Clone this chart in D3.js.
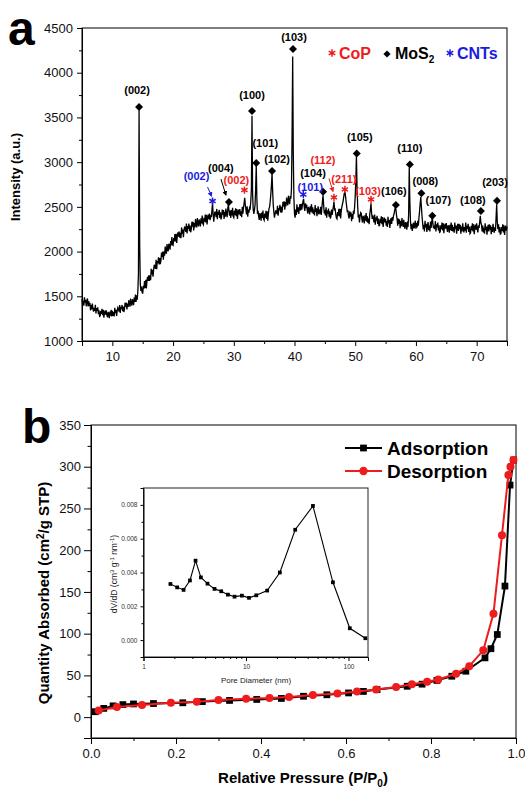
<!DOCTYPE html>
<html><head><meta charset="utf-8">
<script src="https://cdn.jsdelivr.net/npm/d3@7"></script>
<style>body{margin:0;background:#fff}svg{display:block}</style>
</head><body>
<svg id="chart" width="525" height="788"></svg>
<script>
// ===== Panel a: XRD data (2θ from 5 to 75, step 0.1) =====
const xrdStart = 5, xrdStep = 0.1;
const xrdIntensity = [
1468,1408,1448,1396,1488,1428,1460,1388,1444,1476,
1386,1445,1392,1427,1342,1401,1352,1419,1366,1329,
1372,1336,1404,1308,1368,1336,1376,1300,1344,1276,
1280,1338,1302,1360,1288,1350,1260,1318,1340,1294,
1344,1292,1264,1324,1304,1256,1330,1282,1350,1274,
1338,1281,1324,1275,1370,1313,1348,1279,1338,1373,
1357,1328,1403,1314,1381,1356,1403,1334,1385,1324,
1361,1429,1385,1428,1352,1420,1380,1456,1412,1384,
1475,1421,1395,1467,1450,1400,1487,1437,1518,1436,
1510,1462,1560,1760,3580,2080,1640,1560,1610,1545,
1530,1617,1584,1671,1593,1685,1587,1674,1716,1673,
1735,1672,1734,1681,1808,1745,1797,1719,1801,1853,
1835,1806,1907,1803,1894,1870,1936,1857,1928,1859,
1900,1990,1940,2000,1910,2000,1955,2055,2005,1975,
2085,2029,2003,2087,2071,2020,2119,2068,2162,2076,
2070,2152,2114,2196,2113,2200,2097,2179,2216,2168,
2225,2155,2210,2150,2270,2200,2245,2160,2235,2280,
2255,2219,2313,2202,2286,2255,2314,2228,2292,2216,
2250,2334,2278,2332,2236,2320,2269,2363,2307,2271,
2375,2313,2281,2359,2337,2280,2373,2316,2404,2312,
2300,2378,2336,2414,2327,2410,2303,2381,2414,2362,
2425,2352,2404,2385,2458,2545,2417,2334,2406,2448,
2425,2386,2477,2363,2444,2410,2466,2377,2438,2359,
2390,2471,2412,2463,2364,2445,2391,2482,2423,2384,
2470,2530,2465,2400,2460,2375,2465,2405,2490,2395,
2380,2455,2410,2485,2395,2475,2365,2440,2470,2415,
2475,2400,2450,2385,2500,2425,2490,2540,2600,2520,
2470,2415,2505,2390,2470,2435,2490,2480,2560,2700,
3520,2640,2470,2420,2460,2520,2700,2960,2600,2420,
2455,2390,2355,2430,2405,2345,2435,2375,2460,2365,
2350,2425,2380,2455,2365,2450,2345,2420,2480,2500,
2560,2640,2740,2870,2680,2520,2440,2380,2420,2455,
2455,2419,2513,2402,2486,2465,2524,2438,2502,2436,
2470,2557,2504,2561,2468,2555,2506,2603,2551,2518,
2625,2560,2530,2620,2590,2700,3300,4180,3100,2600,
2420,2380,2470,2410,2530,2440,2495,2420,2485,2530,
2460,2535,2470,2520,2560,2590,2500,2455,2540,2485,
2525,2460,2425,2500,2475,2415,2505,2445,2530,2435,
2495,2420,2470,2405,2520,2445,2485,2395,2465,2505,
2415,2470,2425,2500,2410,2480,2560,2630,2520,2430,
2445,2405,2495,2380,2460,2425,2480,2390,2450,2370,
2390,2470,2410,2460,2500,2560,2470,2475,2415,2375,
2365,2443,2401,2479,2393,2477,2371,2456,2500,2530,
2560,2610,2650,2670,2620,2560,2500,2440,2460,2395,
2370,2450,2390,2440,2340,2420,2365,2455,2420,2500,
2620,2800,3070,2720,2520,2380,2415,2325,2395,2435,
2425,2360,2325,2400,2375,2315,2405,2345,2430,2335,
2395,2320,2370,2305,2420,2470,2540,2430,2365,2405,
2365,2325,2415,2300,2380,2345,2400,2310,2370,2290,
2290,2365,2320,2395,2305,2385,2275,2350,2380,2325,
2365,2290,2340,2275,2390,2315,2355,2265,2335,2375,
2310,2385,2345,2400,2420,2460,2490,2470,2410,2360,
2290,2370,2310,2360,2260,2340,2285,2375,2315,2275,
2355,2290,2255,2330,2305,2245,2335,2275,2420,2940,
2560,2340,2250,2310,2230,2280,2325,2260,2300,2345,
2255,2320,2270,2345,2290,2380,2450,2540,2610,2500,
2400,2320,2250,2300,2225,2345,2270,2310,2220,2290,
2330,2240,2290,2225,2335,2265,2330,2390,2310,2260,
2290,2250,2340,2225,2305,2270,2325,2235,2295,2215,
2220,2295,2250,2325,2235,2315,2205,2280,2310,2255,
2320,2255,2220,2295,2270,2210,2300,2240,2325,2230,
2300,2225,2275,2210,2325,2250,2290,2200,2270,2310,
2230,2310,2250,2300,2200,2280,2225,2315,2255,2215,
2275,2235,2325,2210,2290,2255,2310,2220,2280,2200,
2210,2285,2240,2315,2225,2305,2195,2270,2300,2245,
2315,2250,2215,2290,2265,2330,2400,2320,2300,2225,
2290,2215,2265,2200,2315,2240,2280,2190,2260,2300,
2225,2305,2245,2295,2195,2275,2220,2310,2250,2210,
2270,2230,2380,2530,2330,2250,2305,2215,2275,2195,
2200,2275,2230,2305,2215,2295,2185,2260,2290,2235,
2280];
const xrdXTicks = [10,20,30,40,50,60,70];
const xrdXMinor = [5,15,25,35,45,55,65,75];
const xrdYTicks = [1000,1500,2000,2500,3000,3500,4000,4500];
const xrdYMinor = [1250,1750,2250,2750,3250,3750,4250];

// peak annotations
const mos2Labels = ["(002)","(004)","(100)","(101)","(102)","(103)","(104)","(105)","(106)","(110)","(008)","(107)","(108)","(203)"];
const mos2Pos    = [14.4, 29.2, 33.0, 33.7, 36.3, 39.75, 44.7, 50.25, 56.7, 59.0, 60.9, 62.7, 70.7, 73.35];
const mos2Mark   = [3616, 2554, 3571, 2990, 2900, 4265, 2670, 3098, 2520, 2975, 2651, 2401, 2453, 2569];
const copLabels  = ["(002)","(112)","(211)","(103)"];
const copPos     = [31.75, 46.5, 48.3, 52.6];
const copMark    = [2688, 2606, 2696, 2584];
const cntLabels  = ["(002)","(101)"];
const cntPos     = [26.5, 41.45];
const cntMark    = [2565, 2638];

// ===== Panel b: N2 isotherm =====
const adsP = [0.010,0.030,0.052,0.075,0.100,0.147,0.216,0.262,0.326,0.390,0.448,0.500,0.555,0.606,0.641,0.673,0.744,0.779,0.814,0.849,0.882,0.927,0.941,0.956,0.974,0.986,0.994];
const adsQ = [6.5,10.5,13.5,15,15.8,16.3,17.2,18.6,20,21.2,22.4,25,26.8,29,30.8,33,37,39.5,44,49,55,71,82,99,157,278,308];
const desP = [0.994,0.987,0.982,0.967,0.947,0.923,0.890,0.859,0.817,0.791,0.755,0.718,0.671,0.626,0.580,0.522,0.466,0.420,0.365,0.300,0.249,0.188,0.120,0.061,0.018];
const desQ = [308,300,290,218,124,80,61,52,45,42.5,39.3,36,33.2,30.8,28.4,26.4,24,22.8,22,20.4,18.4,17.2,14.4,12,8];
const bXTicks = [0,0.2,0.4,0.6,0.8,1.0];
const bXMinor = [0.1,0.3,0.5,0.7,0.9];
const bYTicks = [0,50,100,150,200,250,300,350];
const bYMinor = [-25,25,75,125,175,225,275,325];

// inset: pore size distribution
const poreD   = [1.83,2.13,2.46,2.84,3.22,3.63,4.21,4.93,5.73,6.66,7.73,9.12,10.7,12.6,16.1,21.4,30.2,45.0,70.5,103,146];
const poreDV  = [0.00332,0.00312,0.00297,0.00353,0.00470,0.00371,0.00334,0.00303,0.00289,0.00269,0.00257,0.00263,0.00250,0.00265,0.00293,0.00400,0.00653,0.00794,0.00342,0.00070,0.00011];
const inXTicks = [1,10,100];
const inXMinor = [2,3,4,5,6,7,8,9,20,30,40,50,60,70,80,90];
const inYTicks = [0,0.002,0.004,0.006,0.008];
const inYMinor = [-0.001,0.001,0.003,0.005,0.007,0.009];

// ===== drawing =====
const F = "'Liberation Sans', Arial, Helvetica, sans-serif";
const svg = d3.select("#chart").attr("font-family", F);
const RED = "#ee1c1c", BLUE = "#1c1ce0";

function styleAxis(g, fs, col) {
  g.selectAll("text").attr("font-family", F).attr("font-size", fs).attr("fill", col || "#111");
  g.selectAll("line").attr("stroke", "#000");
  g.select(".domain").attr("stroke", "#000");
}
function minorAxis(g, axis) { g.call(axis); g.select(".domain").remove(); g.selectAll("line").attr("stroke","#000"); }

const defs = svg.append("defs");
[["#000","arrK"],[RED,"arrR"],[BLUE,"arrB"]].forEach(([c,id])=>{
  defs.append("marker").attr("id",id).attr("viewBox","0 0 10 10").attr("refX",8).attr("refY",5)
    .attr("markerWidth",5).attr("markerHeight",5).attr("orient","auto-start-reverse")
    .append("path").attr("d","M0,0L10,5L0,10z").attr("fill",c);
});

function asterisk(g, x, y, color, r) {
  r = r || 3.6;
  const p = d3.path();
  [90, 30, 150].forEach(a => {
    const t = a * Math.PI / 180;
    p.moveTo(x - r*Math.cos(t), y - r*Math.sin(t));
    p.lineTo(x + r*Math.cos(t), y + r*Math.sin(t));
  });
  g.append("path").attr("d", p.toString()).attr("stroke", color).attr("stroke-width", 1.5).attr("fill","none");
}
function diamond(g, x, y, s) {
  g.append("path").attr("d", d3.symbol(d3.symbolSquare, s || 32)())
    .attr("transform", `translate(${x},${y}) rotate(45)`).attr("fill","#000");
}

// ---------- Panel a ----------
const aX = d3.scaleLinear().domain([5,75]).range([82,507]);
const aY = d3.scaleLinear().domain([1000,4500]).range([341,28]);
const gA = svg.append("g");
const twoTheta = d3.range(xrdIntensity.length).map(i => xrdStart + i*xrdStep);

gA.append("path").datum(xrdIntensity)
  .attr("d", d3.line().x((d,i)=>aX(twoTheta[i])).y(d=>aY(d)))
  .attr("fill","none").attr("stroke","#000").attr("stroke-width",1.3).attr("stroke-linejoin","miter");

gA.append("rect").attr("x",aX.range()[0]).attr("y",aY.range()[1])
  .attr("width",aX.range()[1]-aX.range()[0]).attr("height",aY.range()[0]-aY.range()[1])
  .attr("fill","none").attr("stroke","#000").attr("stroke-width",1);

const aXg = gA.append("g").attr("transform",`translate(0,${aY.range()[0]})`)
  .call(d3.axisBottom(aX).tickValues(xrdXTicks).tickSize(5).tickPadding(6).tickFormat(d3.format("d")));
styleAxis(aXg, 13);
minorAxis(gA.append("g").attr("transform",`translate(0,${aY.range()[0]})`),
  d3.axisBottom(aX).tickValues(xrdXMinor).tickSize(3).tickFormat(""));
const aYg = gA.append("g").attr("transform",`translate(${aX.range()[0]},0)`)
  .call(d3.axisLeft(aY).tickValues(xrdYTicks).tickSize(5).tickPadding(4).tickFormat(d3.format("d")));
styleAxis(aYg, 13);
minorAxis(gA.append("g").attr("transform",`translate(${aX.range()[0]},0)`),
  d3.axisLeft(aY).tickValues(xrdYMinor).tickSize(3).tickFormat(""));

svg.append("text").attr("x",8).attr("y",45).attr("font-size",48).attr("font-weight","bold").text("a");
svg.append("text").attr("transform","translate(20,177) rotate(-90)").attr("text-anchor","middle")
  .attr("font-size",13).attr("font-weight","bold").text("Intensity (a.u.)");

// annotation label offsets (px) relative to the marker
const mos2Off = [[-2,-17],[-8,-34],[0,-16],[9,-20],[5,-12],[1,-12],[-10,-19],[3,-16],[-2,-14],[0,-16],[4,-12],[6,-16],[-8,-11],[-2,-19]];
const mos2Arrow = {1: [[-8,-23],[-3,-7]]};
const copOff = [[-8,-10],[-11,-37],[-1,-10],[-3,-8]];
const copArrow = {1: [[-5,-19],[-1,-6]]};
const cntOff = [[-16,-25],[7,-8]];
const cntArrow = {0: [[-5,-14],[-1,-5]]};

const gAnn = gA.append("g").attr("font-size",11).attr("font-weight","bold").attr("text-anchor","middle");
function drawLabel(x, y, txt, col) {
  gAnn.append("text").attr("x",x).attr("y",y+4).attr("fill",col).text(txt);
}
function drawArrow(x, y, seg, col, id) {
  gAnn.append("line").attr("x1",x+seg[0][0]).attr("y1",y+seg[0][1]).attr("x2",x+seg[1][0]).attr("y2",y+seg[1][1])
    .attr("stroke",col).attr("stroke-width",1).attr("marker-end",`url(#${id})`);
}
mos2Labels.forEach((lab,i)=>{
  const x = aX(mos2Pos[i]), y = aY(mos2Mark[i]);
  diamond(gAnn, x, y);
  drawLabel(x+mos2Off[i][0], y+mos2Off[i][1], lab, "#000");
  if (mos2Arrow[i]) drawArrow(x, y, mos2Arrow[i], "#000", "arrK");
});
copLabels.forEach((lab,i)=>{
  const x = aX(copPos[i]), y = aY(copMark[i]);
  asterisk(gAnn, x, y, RED);
  drawLabel(x+copOff[i][0], y+copOff[i][1], lab, RED);
  if (copArrow[i]) drawArrow(x, y, copArrow[i], RED, "arrR");
});
cntLabels.forEach((lab,i)=>{
  const x = aX(cntPos[i]), y = aY(cntMark[i]);
  asterisk(gAnn, x, y, BLUE);
  drawLabel(x+cntOff[i][0], y+cntOff[i][1], lab, BLUE);
  if (cntArrow[i]) drawArrow(x, y, cntArrow[i], BLUE, "arrB");
});

// legend a
const gLa = svg.append("g").attr("font-size",16).attr("font-weight","bold");
asterisk(gLa, 332, 53, RED, 3.8);
gLa.append("text").attr("x",339).attr("y",59).attr("fill",RED).text("CoP");
diamond(gLa, 387, 54, 26);
const ms = gLa.append("text").attr("x",395).attr("y",59).attr("fill","#000");
ms.append("tspan").text("MoS");
ms.append("tspan").attr("dy",4).attr("font-size",10).text("2");
asterisk(gLa, 450, 53, BLUE, 3.8);
gLa.append("text").attr("x",457).attr("y",59).attr("fill",BLUE).text("CNTs");

// ---------- Panel b ----------
const bX = d3.scaleLinear().domain([0,1]).range([91,516]);
const bY = d3.scaleLinear().domain([-25,350]).range([738,425]);
const gB = svg.append("g");
gB.append("rect").attr("x",bX.range()[0]).attr("y",bY.range()[1])
  .attr("width",bX.range()[1]-bX.range()[0]).attr("height",bY.range()[0]-bY.range()[1])
  .attr("fill","none").attr("stroke","#000").attr("stroke-width",1);
const bXg = gB.append("g").attr("transform",`translate(0,${bY.range()[0]})`)
  .call(d3.axisBottom(bX).tickValues(bXTicks).tickSize(6).tickPadding(5).tickFormat(d3.format(".1f")));
styleAxis(bXg, 13);
minorAxis(gB.append("g").attr("transform",`translate(0,${bY.range()[0]})`),
  d3.axisBottom(bX).tickValues(bXMinor).tickSize(3).tickFormat(""));
const bYg = gB.append("g").attr("transform",`translate(${bX.range()[0]},0)`)
  .call(d3.axisLeft(bY).tickValues(bYTicks).tickSize(7).tickPadding(3).tickFormat(d3.format("d")));
styleAxis(bYg, 13);
minorAxis(gB.append("g").attr("transform",`translate(${bX.range()[0]},0)`),
  d3.axisLeft(bY).tickValues(bYMinor).tickSize(3.5).tickFormat(""));

svg.append("text").attr("x",22).attr("y",443).attr("font-size",48).attr("font-weight","bold").text("b");
const yt = svg.append("text").attr("transform","translate(49,593) rotate(-90)").attr("text-anchor","middle")
  .attr("font-size",15).attr("font-weight","bold");
yt.append("tspan").text("Quantity Absorbed (cm");
yt.append("tspan").attr("dy",-5).attr("font-size",10).text("2");
yt.append("tspan").attr("dy",5).text("/g STP)");
const xt = svg.append("text").attr("x",303).attr("y",783).attr("text-anchor","middle")
  .attr("font-size",15).attr("font-weight","bold");
xt.append("tspan").text("Relative Pressure (P/P");
xt.append("tspan").attr("dy",4).attr("font-size",10).text("0");
xt.append("tspan").attr("dy",-4).text(")");

// isotherm lines
const ads = adsP.map((p,i)=>[p,adsQ[i]]);
const des = desP.map((p,i)=>[p,desQ[i]]);
const isoLine = d3.line().x(d=>bX(d[0])).y(d=>bY(d[1]));
gB.append("path").datum(ads).attr("d",isoLine).attr("fill","none").attr("stroke","#000").attr("stroke-width",2);
gB.selectAll(".sq").data(ads).join("path").attr("d",d3.symbol(d3.symbolSquare,46)())
  .attr("transform",d=>`translate(${bX(d[0])},${bY(d[1])})`).attr("fill","#000");
gB.append("path").datum(des).attr("d",isoLine).attr("fill","none").attr("stroke",RED).attr("stroke-width",2);
gB.selectAll(".ci").data(des).join("circle").attr("cx",d=>bX(d[0])).attr("cy",d=>bY(d[1])).attr("r",4).attr("fill",RED);

// legend b
const gLb = svg.append("g").attr("font-size",19).attr("font-weight","bold");
gLb.append("line").attr("x1",345).attr("x2",382).attr("y1",448).attr("y2",448).attr("stroke","#000").attr("stroke-width",2);
gLb.append("path").attr("d",d3.symbol(d3.symbolSquare,46)()).attr("transform","translate(363.5,448)").attr("fill","#000");
gLb.append("text").attr("x",387).attr("y",455).text("Adsorption");
gLb.append("line").attr("x1",345).attr("x2",382).attr("y1",471).attr("y2",471).attr("stroke",RED).attr("stroke-width",2);
gLb.append("circle").attr("cx",363.5).attr("cy",471).attr("r",4.2).attr("fill",RED);
gLb.append("text").attr("x",387).attr("y",478).text("Desorption");

// inset
const iX = d3.scaleLog().domain([1,155]).range([143.5,368]);
const iY = d3.scaleLinear().domain([-0.001,0.009]).range([657,488]);
const gI = svg.append("g");
gI.append("rect").attr("x",iX.range()[0]).attr("y",iY.range()[1])
  .attr("width",iX.range()[1]-iX.range()[0]).attr("height",iY.range()[0]-iY.range()[1])
  .attr("fill","#fff").attr("stroke","#222").attr("stroke-width",1);
const iXg = gI.append("g").attr("transform",`translate(0,${iY.range()[0]})`)
  .call(d3.axisBottom(iX).tickValues(inXTicks).tickSize(4).tickPadding(3).tickFormat(d3.format("d")));
styleAxis(iXg, 6.5, "#333");
minorAxis(gI.append("g").attr("transform",`translate(0,${iY.range()[0]})`),
  d3.axisBottom(iX).tickValues(inXMinor).tickSize(2).tickFormat(""));
const iYg = gI.append("g").attr("transform",`translate(${iX.range()[0]},0)`)
  .call(d3.axisLeft(iY).tickValues(inYTicks).tickSize(3).tickPadding(3).tickFormat(d3.format(".3f")));
styleAxis(iYg, 6.5, "#333");
minorAxis(gI.append("g").attr("transform",`translate(${iX.range()[0]},0)`),
  d3.axisLeft(iY).tickValues(inYMinor).tickSize(2).tickFormat(""));
gI.append("text").attr("x",256).attr("y",683).attr("text-anchor","middle").attr("font-size",8).attr("fill","#222").text("Pore Diameter (nm)");
const iyt = gI.append("text").attr("transform","translate(117,574) rotate(-90)").attr("text-anchor","middle")
  .attr("font-size",8.5).attr("fill","#222");
iyt.append("tspan").text("dV/dD (cm");
iyt.append("tspan").attr("dy",-3).attr("font-size",6).text("3");
iyt.append("tspan").attr("dy",3).text(" g");
iyt.append("tspan").attr("dy",-3).attr("font-size",6).text("-1");
iyt.append("tspan").attr("dy",3).text(" nm");
iyt.append("tspan").attr("dy",-3).attr("font-size",6).text("-1");
iyt.append("tspan").attr("dy",3).text(")");
const pore = poreD.map((d,i)=>[d,poreDV[i]]);
gI.append("path").datum(pore).attr("d",d3.line().x(d=>iX(d[0])).y(d=>iY(d[1])))
  .attr("fill","none").attr("stroke","#000").attr("stroke-width",1.1);
gI.selectAll(".ps").data(pore).join("path").attr("d",d3.symbol(d3.symbolSquare,14)())
  .attr("transform",d=>`translate(${iX(d[0])},${iY(d[1])})`).attr("fill","#000");
</script>
</body></html>
